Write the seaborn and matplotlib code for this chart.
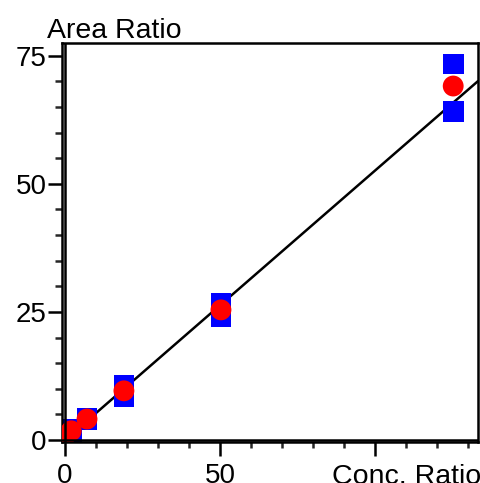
import numpy as np
import pandas as pd
import matplotlib
matplotlib.use("Agg")
import matplotlib.pyplot as plt
import seaborn as sns

# replicate measurements (blue squares)
rep_conc = [0, 0, 2, 2, 7.1, 7.1, 19, 19, 50.3, 50.3, 125.2, 125.2]
rep_area = [0.5, 1.1, 1.6, 2.0, 4.0, 4.2, 10.7, 8.4, 26.6, 24.0, 73.4, 64.1]
# means (red circles)
mean_conc = [0, 2, 7.1, 19, 50.3, 125.2]
mean_area = [0.8, 1.8, 4.1, 9.6, 25.4, 69.1]
# calibration line
slope = 0.526
intercept = 0.0

x_ticks = [0, 50, 100]
x_ticklabels = ["0", "50", ""]
y_ticks = [0, 25, 50, 75]

sns.set_style("ticks")
plt.rcParams['font.family'] = ['Liberation Sans', 'DejaVu Sans']
plt.rcParams['text.color'] = 'black'

fig = plt.figure(figsize=(4.81, 4.83), dpi=100)
ax = fig.add_axes([62/481, 1-442/483, (478-62)/481, (442-43)/483])

rep = pd.DataFrame({"conc": rep_conc, "area": rep_area})
means = pd.DataFrame({"conc": mean_conc, "area": mean_area})

ax.axline((0, intercept), slope=slope, color="black", lw=1.8, zorder=1)
sns.scatterplot(data=rep, x="conc", y="area", marker="s", s=225, color="#0000ff",
                edgecolor="none", linewidth=0, ax=ax, zorder=2)
sns.scatterplot(data=means, x="conc", y="area", marker="o", s=225, color="#ff0000",
                edgecolor="none", linewidth=0, ax=ax, zorder=3)

ax.axvline(0, color="black", lw=1.8, zorder=4)
ax.axhline(0, color="black", lw=1.8, zorder=4)

ax.set_xlim(-0.97, 133.2)
ax.set_ylim(-0.39, 77.5)
ax.set_xticks(x_ticks)
ax.set_xticklabels(x_ticklabels)
ax.set_yticks(y_ticks)
ax.set_xticks(np.arange(0, 134, 10), minor=True)
ax.set_yticks(np.arange(0, 78, 5), minor=True)
ax.set_xlabel("")
ax.set_ylabel("")

for s in ax.spines.values():
    s.set_visible(True)
    s.set_linewidth(1.8)
    s.set_color("black")

ax.tick_params(axis="both", which="major", direction="out", width=1.8, colors="black",
               labelsize=20)
ax.tick_params(axis="y", which="major", length=10, pad=1)
ax.tick_params(axis="y", which="minor", length=5, width=1.8)
ax.tick_params(axis="x", which="major", length=10, pad=5)
ax.tick_params(axis="x", which="minor", length=4, width=1.8)

fig.text(47/481, 1-38/483, "Area Ratio", fontsize=20.5, ha="left", va="baseline")
fig.text(1.0, -1/483, "Conc. Ratio", fontsize=20.5, ha="right", va="baseline")

fig.savefig("out.png", dpi=100)
